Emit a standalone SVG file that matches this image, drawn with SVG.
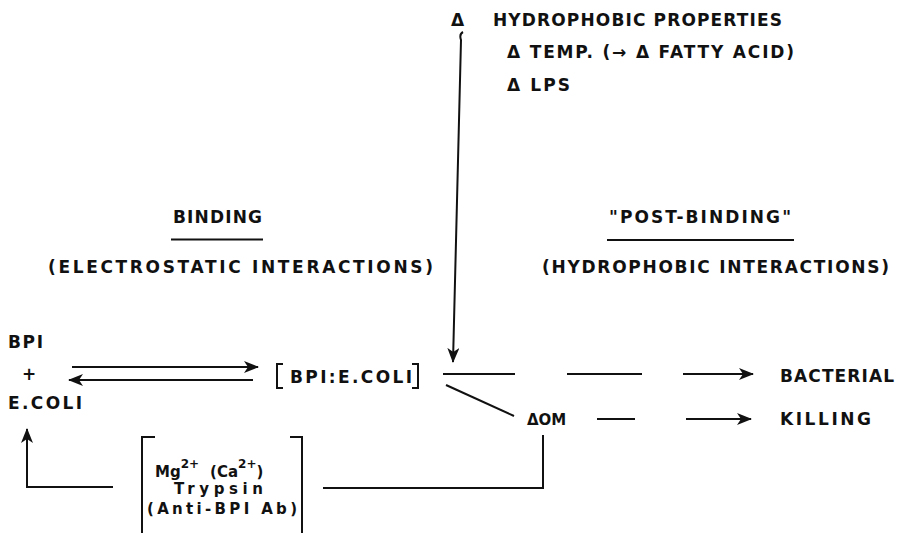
<svg xmlns="http://www.w3.org/2000/svg" width="899" height="533" viewBox="0 0 899 533">
  <defs>
    <marker id="head" markerWidth="15" markerHeight="12" refX="14" refY="6" orient="auto" markerUnits="userSpaceOnUse">
      <path d="M0,0 L15,6 L0,12 L4,6 Z" fill="#111"/>
    </marker>
  </defs>
  <style>
    text { font-family: "DejaVu Sans", "Liberation Sans", sans-serif; font-weight: bold; fill: #111; }
    .t { font-size: 17px; }
    .s { font-size: 15px; }
    .sup { font-size: 12px; }
    .ln { stroke: #111; stroke-width: 2; fill: none; stroke-linecap: butt; }
    .ar { stroke: #111; stroke-width: 2; fill: none; marker-end: url(#head); }
  </style>
  <rect width="899" height="533" fill="#fff"/>

  <!-- influences on the hydrophobic step -->
  <g id="hydrophobic-properties">
    <text class="t" x="451" y="26">Δ</text>
    <text class="t" x="493" y="26" textLength="289" lengthAdjust="spacing">HYDROPHOBIC PROPERTIES</text>
    <text class="t" x="507" y="58" textLength="287" lengthAdjust="spacing">Δ TEMP. (→ Δ FATTY ACID)</text>
    <text class="t" x="507" y="91" textLength="63" lengthAdjust="spacing">Δ LPS</text>
  </g>

  <!-- stage headings -->
  <g id="binding-heading">
    <text class="t" x="173" y="223" textLength="89" lengthAdjust="spacing">BINDING</text>
    <line class="ln" x1="171" y1="239.5" x2="263" y2="239.5"/>
    <text class="t" x="48" y="273" textLength="385" lengthAdjust="spacing">(ELECTROSTATIC INTERACTIONS)</text>
  </g>
  <g id="post-binding-heading">
    <text class="t" x="609" y="223" textLength="182" lengthAdjust="spacing">"POST-BINDING"</text>
    <line class="ln" x1="607" y1="240" x2="794" y2="240"/>
    <text class="t" x="542" y="273" textLength="347" lengthAdjust="spacing">(HYDROPHOBIC INTERACTIONS)</text>
  </g>

  <!-- reactants -->
  <g id="reactants">
    <text class="t" x="8" y="348" textLength="35" lengthAdjust="spacing">BPI</text>
    <text class="t" x="22" y="380">+</text>
    <text class="t" x="8" y="409" textLength="74" lengthAdjust="spacing">E.COLI</text>
  </g>

  <!-- complex -->
  <g id="complex">
    <path class="ln" d="M283,364 L277,364 L277,388 L283,388"/>
    <text class="t" x="290" y="383" textLength="122" lengthAdjust="spacing">BPI:E.COLI</text>
    <path class="ln" d="M412,364 L418,364 L418,388 L412,388"/>
  </g>

  <!-- outer membrane change -->
  <g id="delta-om">
    <text class="s" x="527" y="425">ΔOM</text>
  </g>

  <!-- outcome -->
  <g id="outcome">
    <text class="t" x="780" y="382" textLength="114" lengthAdjust="spacing">BACTERIAL</text>
    <text class="t" x="780" y="425" textLength="91" lengthAdjust="spacing">KILLING</text>
  </g>

  <!-- inhibitors -->
  <g id="inhibitors">
    <path class="ln" d="M155,437 L142,437 L142,533"/>
    <path class="ln" d="M290,437 L302,437 L302,533"/>
    <text class="s" x="155" y="477">Mg<tspan class="sup" dy="-9">2+</tspan><tspan dy="9" dx="11">(Ca</tspan><tspan class="sup" dy="-9">2+</tspan><tspan dy="9">)</tspan></text>
    <text class="s" x="174" y="494" textLength="89" lengthAdjust="spacing">Trypsin</text>
    <text class="s" x="147" y="514" textLength="150" lengthAdjust="spacing">(Anti-BPI Ab)</text>
  </g>

  <!-- connectors -->
  <g id="connectors">
    <line class="ar" x1="72" y1="367" x2="258" y2="367"/>
    <line class="ar" x1="253" y1="380" x2="69" y2="380"/>
    <path class="ar" d="M463,32 Q459,34 461,40 L453,362"/>
    <line class="ln" x1="443" y1="374" x2="515" y2="374"/>
    <line class="ln" x1="567" y1="374" x2="642" y2="374"/>
    <line class="ar" x1="683" y1="374" x2="753" y2="374"/>
    <line class="ln" x1="446" y1="385" x2="514" y2="416"/>
    <line class="ln" x1="597" y1="419" x2="635" y2="419"/>
    <line class="ar" x1="686" y1="419" x2="751" y2="419"/>
    <path class="ln" d="M543,435 L543,488 L323,488"/>
    <path class="ar" d="M113,487 L27,487 L27,429"/>
  </g>
</svg>
